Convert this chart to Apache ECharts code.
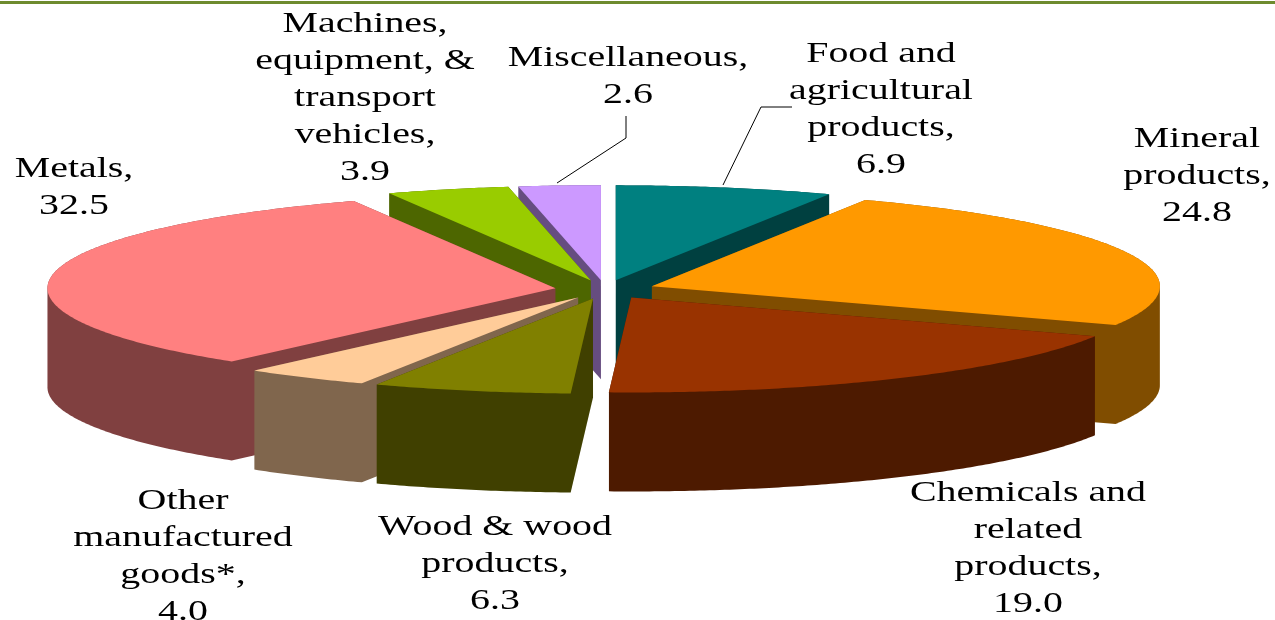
<!DOCTYPE html>
<html><head><meta charset="utf-8">
<style>html,body{margin:0;padding:0;background:#fff}#c{width:1275px;height:620px}</style>
<script src="https://cdn.jsdelivr.net/npm/echarts@6/dist/echarts.min.js"></script>
</head><body><div id="c"></div>
<script>
// DATA
const categories = ['Food and\nagricultural\nproducts,','Mineral\nproducts,','Chemicals and\nrelated\nproducts,','Wood & wood\nproducts,','Other\nmanufactured\ngoods*,','Metals,','Machines,\nequipment, &\ntransport\nvehicles,','Miscellaneous,'];
const values = [6.9,24.8,19.0,6.3,4.0,32.5,3.9,2.6];
const valueLabels = ['6.9','24.8','19.0','6.3','4.0','32.5','3.9','2.6'];
const topColors = ['#008080','#FF9900','#993300','#808000','#FFCC99','#FF8080','#99CC00','#CC99FF'];
const sideColors = ['#004040','#804D00','#4D1A00','#404000','#80664D','#804040','#4D6600','#664D80'];
// LAYOUT
const paintOrder = [0,3,7,6,5,4,2,1]; // back-to-front rank of each slice
const labelCenters = [[881,110],[1197,176],[1028,549],[495,564],[183,557],[74,188],[365,98],[628,77]];
const leaders = {0:[[792,107],[761,107],[723,185]],7:[[626,116],[626,138],[557,183]]};
const cx=605, cy=289.5, rx=508, ry=95, depth=99, explode=0.0985;
const total = values.reduce((a,b)=>a+b,0);
const starts = values.map((_,i)=>values.slice(0,i).reduce((a,b)=>a+b,0));

function hull(pts){
  const p=pts.slice().sort((a,b)=>a[0]-b[0]||a[1]-b[1]);
  const cr=(o,a,b)=>(a[0]-o[0])*(b[1]-o[1])-(a[1]-o[1])*(b[0]-o[0]);
  const lo=[],up=[];
  for(const q of p){while(lo.length>1&&cr(lo[lo.length-2],lo[lo.length-1],q)<=0)lo.pop();lo.push(q);}
  for(const q of p.slice().reverse()){while(up.length>1&&cr(up[up.length-2],up[up.length-1],q)<=0)up.pop();up.push(q);}
  return lo.slice(0,-1).concat(up.slice(0,-1));
}
function renderItem(params, api){
  const i=params.dataIndex, v=api.value(0);
  const a0=starts[i]/total*2*Math.PI, a1=(starts[i]+v)/total*2*Math.PI, m=(a0+a1)/2;
  const ox=cx+explode*rx*Math.sin(m), oy=cy-explode*ry*Math.cos(m);
  const top=[[ox,oy]];
  const n=Math.ceil((a1-a0)/0.01);
  for(let k=0;k<=n;k++){const a=a0+(a1-a0)*k/n;top.push([ox+rx*Math.sin(a),oy-ry*Math.cos(a)]);}
  const all=top.concat(top.map(p=>[p[0],p[1]+depth]));
  const z=paintOrder[i]*2;
  const children=[
    {type:'polygon',z2:z,shape:{points:hull(all)},style:{fill:sideColors[i]},silent:true},
    {type:'polygon',z2:z+1,shape:{points:top},style:{fill:topColors[i]},silent:true}
  ];
  if(leaders[i]) children.push({type:'polyline',z2:50,shape:{points:leaders[i]},style:{stroke:'#000',lineWidth:1,fill:null},silent:true});
  children.push({type:'text',z2:60,x:labelCenters[i][0],y:labelCenters[i][1],scaleX:1.33,silent:true,
    style:{text:categories[i]+'\n'+valueLabels[i],fontFamily:'Liberation Serif',fontSize:30,lineHeight:37,fill:'#000',align:'center',verticalAlign:'middle'}});
  return {type:'group',children};
}
const chart=echarts.init(document.getElementById('c'),null,{renderer:'canvas'});
chart.setOption({
  animation:false,
  backgroundColor:'#fff',
  graphic:[{type:'rect',shape:{x:0,y:1,width:1275,height:3},style:{fill:'#6E8B2E'},silent:true}],
  series:[{type:'custom',coordinateSystem:'none',renderItem,silent:true,data:values.map(v=>[v])}]
});
</script></body></html>
